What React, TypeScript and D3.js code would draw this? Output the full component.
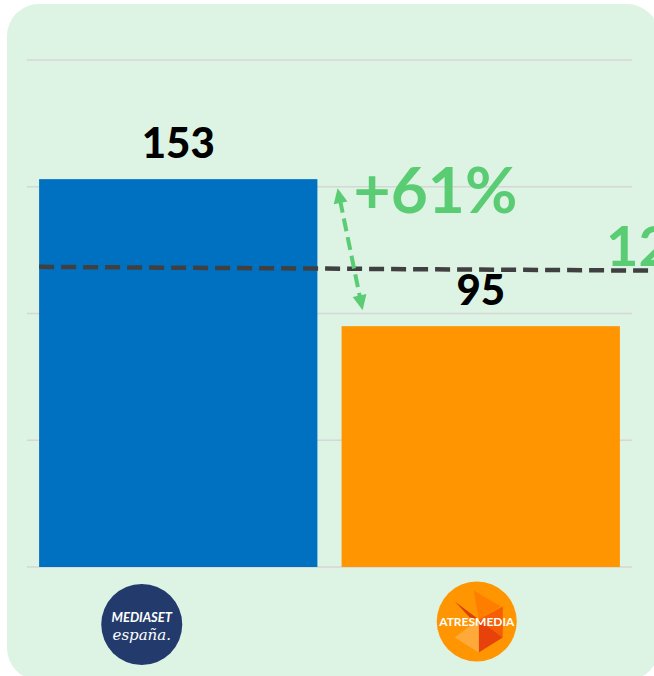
import React from 'react';
import * as d3 from 'd3';

// values
const categories = ['Mediaset España', 'Atresmedia'];
const audience = [153, 95];
const gridTicks = [0, 50, 100, 150, 200];
const benchmark = [118.4, 116.9]; // dashed reference line, slightly sloped (left, right)
const benchmarkLabel = '124';
const deltaLabel = '+61%';

const W = 654;
const H = 676;
const FONT = 'Lato, "Open Sans", sans-serif';
const GREEN = '#5ACC74';
const BAR_COLORS = ['#0070C0', '#FF9500'];

const x = d3.scaleBand<string>()
  .domain(categories)
  .range([27, 632])
  .paddingInner(0.08)
  .paddingOuter(0.04);

const y = d3.scaleLinear().domain([0, 200]).range([567, 60]);

const MediasetLogo: React.FC<{ cx: number; cy: number }> = ({ cx, cy }) => (
  <g transform={`translate(${cx}, ${cy})`}>
    <circle r={40.5} fill="#233B6C" />
    <text
      x={0}
      y={-3}
      textAnchor="middle"
      fill="#fff"
      fontFamily={FONT}
      fontStyle="italic"
      fontWeight={700}
      fontSize={13}
    >
      MEDIASET
    </text>
    <text
      x={0}
      y={15}
      textAnchor="middle"
      fill="#fff"
      fontFamily='"DejaVu Serif", "Liberation Serif", serif'
      fontStyle="italic"
      fontSize={15}
    >
      españa.
    </text>
  </g>
);

const AtresmediaLogo: React.FC<{ cx: number; cy: number }> = ({ cx, cy }) => {
  const tris: { pts: [number, number][]; fill: string }[] = [
    { pts: [[-3, -31], [24, -15], [2, -2]], fill: '#FF7E00' },
    { pts: [[2, -2], [26, -15], [26, 16]], fill: '#F65E05' },
    { pts: [[2, -2], [26, 16], [2, 31]], fill: '#E8420C' },
    { pts: [[-22, -20], [2, -2], [-7, -4]], fill: '#D8400A' },
    { pts: [[-22, 16], [2, -2], [2, 31]], fill: '#FFA93A' },
  ];
  return (
    <g transform={`translate(${cx}, ${cy})`}>
      <circle r={40} fill="#FF9500" />
      {tris.map((t, i) => (
        <polygon key={i} points={t.pts.map(p => p.join(',')).join(' ')} fill={t.fill} />
      ))}
      <text
        x={0}
        y={4.5}
        textAnchor="middle"
        fill="#fff"
        fontFamily={FONT}
        fontWeight={700}
        fontSize={12}
      >
        ATRESMEDIA
      </text>
    </g>
  );
};

export default function App() {
  const bw = x.bandwidth();
  const x0 = x(categories[0])!;
  const x1 = x(categories[1])!;

  // double-headed arrow between the two bar tops
  const arrowTop: [number, number] = [x1 - 4, y(audience[0]) + 9];
  const arrowBot: [number, number] = [x1 + 21, y(audience[1]) - 16];
  const ang = Math.atan2(arrowBot[1] - arrowTop[1], arrowBot[0] - arrowTop[0]);
  const head = (tip: [number, number], dir: number) => {
    const a = ang + (dir > 0 ? 0 : Math.PI);
    const len = 15;
    const wid = 7;
    const bx = tip[0] - Math.cos(a) * len;
    const by = tip[1] - Math.sin(a) * len;
    const px = -Math.sin(a) * wid;
    const py = Math.cos(a) * wid;
    return `${tip[0]},${tip[1]} ${bx + px},${by + py} ${bx - px},${by - py}`;
  };
  const shaftStart = [arrowTop[0] + Math.cos(ang) * 12, arrowTop[1] + Math.sin(ang) * 12];
  const shaftEnd = [arrowBot[0] - Math.cos(ang) * 12, arrowBot[1] - Math.sin(ang) * 12];

  return (
    <svg
      width={W}
      height={H}
      style={{ position: 'fixed', left: 0, top: 0, display: 'block' }}
    >
      <rect x={0} y={0} width={W} height={H} fill="#fff" />
      <rect x={7} y={4} width={652} height={676} rx={32} ry={32} fill="#DDF3E3" />

      {/* grid */}
      {gridTicks.map(t => (
        <line
          key={t}
          x1={27}
          x2={632}
          y1={y(t)}
          y2={y(t)}
          stroke="#D6D6D6"
          strokeWidth={1.5}
        />
      ))}

      {/* bars */}
      {categories.map((c, i) => (
        <rect
          key={c}
          x={x(c)}
          y={y(audience[i])}
          width={bw}
          height={y(0) - y(audience[i])}
          fill={BAR_COLORS[i]}
        />
      ))}

      {/* value labels */}
      {categories.map((c, i) => (
        <text
          key={c}
          x={x(c)! + bw / 2}
          y={y(audience[i]) - 21}
          textAnchor="middle"
          fontFamily={FONT}
          fontWeight={900}
          fontSize={42}
          fill="#000"
        >
          {audience[i]}
        </text>
      ))}

      {/* benchmark dashed line */}
      <line
        x1={x0}
        x2={W}
        y1={y(benchmark[0])}
        y2={y(benchmark[1])}
        stroke="#404040"
        strokeWidth={4.5}
        strokeDasharray="15 7"
      />
      <text
        x={606}
        y={y(benchmark[1]) - 5}
        fontFamily={FONT}
        fontWeight={700}
        fontSize={56}
        fill={GREEN}
      >
        {benchmarkLabel}
      </text>

      {/* arrow and delta */}
      <line
        x1={shaftStart[0]}
        y1={shaftStart[1]}
        x2={shaftEnd[0]}
        y2={shaftEnd[1]}
        stroke={GREEN}
        strokeWidth={4}
        strokeDasharray="13 6"
      />
      <polygon points={head(arrowTop, -1)} fill={GREEN} />
      <polygon points={head(arrowBot, 1)} fill={GREEN} />
      <text
        x={x1 + 12}
        y={213}
        fontFamily={FONT}
        fontWeight={700}
        fontSize={64}
        fill={GREEN}
      >
        {deltaLabel}
      </text>

      {/* logos */}
      <MediasetLogo cx={x0 + bw / 2 - 36.5} cy={y(0) + 57.5} />
      <AtresmediaLogo cx={x1 + bw / 2 - 4} cy={y(0) + 54.5} />
    </svg>
  );
}
